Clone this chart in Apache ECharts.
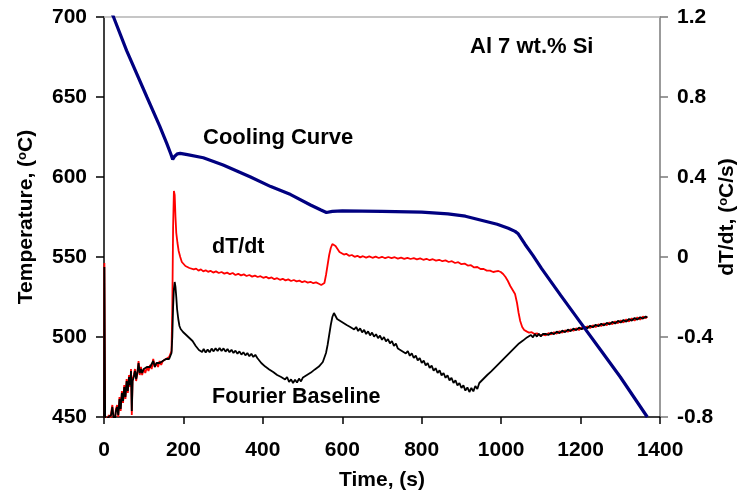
<!DOCTYPE html>
<html>
<head>
<meta charset="utf-8">
<script src="https://cdn.jsdelivr.net/npm/echarts@6/dist/echarts.min.js"></script>
<style>
  html, body { margin: 0; padding: 0; background: #fff; }
  #container { width: 742px; height: 495px; }
</style>
</head>
<body>
<div id="container"></div>
<script>
// cooling curve, time (s) / temperature (C), left axis
var coolingCurve = [
    [0,716],[10,708],[24,700],[57,679],[108,650],[140,632],[158,621],[168,614.5],
    [173,611],[178,613],[185,614.5],[192,614.8],[210,614],[250,612],[300,607.5],
    [369,600],[420,594],[470,589],[520,582.5],[545,579.5],[560,577.8],[575,578.5],
    [600,578.8],[700,578.5],[800,578],[866,577],[910,575.5],[950,573],[990,570.5],
    [1018,568],[1035,566],[1043,564.5],[1060,558],[1080,551],[1102,542.7],
    [1150,526],[1200,509],[1250,492],[1300,475],[1368,450]
];

// dT/dt (C/s), right axis
var dTdtCurve = [
    [0,-0.80],[1,-0.03],[3,-0.86],[6,-0.80],[9,-0.83],[12,-0.79],[15,-0.82],[18,-0.78],
    [21,-0.74],[24,-0.81],[27,-0.83],[30,-0.76],[33,-0.74],[36,-0.80],[39,-0.70],[42,-0.77],
    [45,-0.67],[48,-0.73],[51,-0.64],[54,-0.71],[57,-0.61],[60,-0.68],[63,-0.59],[66,-0.65],
    [68,-0.56],[70,-0.79],[72,-0.61],[75,-0.59],[78,-0.56],[81,-0.62],[84,-0.58],[87,-0.52],
    [90,-0.59],[93,-0.55],[96,-0.59],[100,-0.56],[104,-0.58],[108,-0.55],[112,-0.57],[116,-0.54],
    [120,-0.56],[124,-0.51],[128,-0.55],[132,-0.53],[136,-0.55],[140,-0.52],[144,-0.54],[148,-0.52],
    [152,-0.53],[156,-0.51],[160,-0.52],[164,-0.50],[168,-0.50],[170,-0.47],
    [172,-0.25],[174,0.15],[176,0.33],[178,0.31],[180,0.20],[182,0.12],[185,0.07],[188,0.03],
    [192,0.0],[196,-0.025],[200,-0.035],[205,-0.045],[210,-0.04],[215,-0.055],[220,-0.05],
    [226,-0.062],[232,-0.058],[238,-0.068],[244,-0.062],[250,-0.072],[256,-0.066],[262,-0.074],
    [268,-0.069],[275,-0.078],[282,-0.072],[289,-0.08],[296,-0.075],[303,-0.083],[310,-0.078],
    [317,-0.086],[324,-0.08],[331,-0.09],[338,-0.084],[345,-0.092],[352,-0.087],[359,-0.095],
    [366,-0.09],[373,-0.098],[380,-0.093],[387,-0.1],[394,-0.096],[401,-0.104],[408,-0.099],
    [415,-0.107],[422,-0.102],[429,-0.111],[436,-0.106],[443,-0.114],[450,-0.109],[457,-0.117],
    [464,-0.112],[471,-0.12],[478,-0.115],[485,-0.122],[492,-0.118],[499,-0.126],[506,-0.121],
    [513,-0.128],[520,-0.124],[527,-0.131],[534,-0.127],[541,-0.134],[547,-0.14],[551,-0.15],
    [555,-0.13],[559,-0.09],[563,-0.04],[567,0.01],[571,0.045],[575,0.065],[579,0.07],
    [583,0.055],[588,0.04],[593,0.025],[598,0.02],[604,0.012],[610,0.016],[617,0.006],
    [624,0.01],[631,0.001],[638,0.006],[645,-0.002],[652,0.004],[660,-0.003],[668,0.003],
    [676,-0.004],[684,0.002],[692,-0.005],[700,0.001],[708,-0.006],[716,0.0],[724,-0.006],
    [732,-0.001],[740,-0.008],[748,-0.003],[756,-0.009],[764,-0.004],[772,-0.01],[780,-0.006],
    [788,-0.012],[796,-0.007],[804,-0.014],[812,-0.009],[820,-0.016],[828,-0.011],[836,-0.018],
    [844,-0.014],[852,-0.021],[860,-0.017],[868,-0.025],[876,-0.021],[884,-0.03],[892,-0.026],
    [900,-0.036],[908,-0.033],[916,-0.043],[924,-0.041],[932,-0.052],[940,-0.05],[948,-0.06],
    [956,-0.06],[964,-0.068],[972,-0.068],[980,-0.075],[987,-0.072],[993,-0.07],[999,-0.075],
    [1005,-0.085],[1011,-0.1],[1017,-0.12],[1023,-0.145],[1029,-0.165],[1035,-0.185],
    [1040,-0.23],[1044,-0.28],[1048,-0.32],[1053,-0.35],[1058,-0.365],[1064,-0.372],
    [1070,-0.378],[1077,-0.376],[1084,-0.385],[1091,-0.382],[1098,-0.392],[1105,-0.388],
    [1112,-0.392],[1119,-0.381],[1126,-0.387],[1133,-0.376],[1140,-0.383],[1147,-0.371],
    [1154,-0.378],[1161,-0.367],[1168,-0.374],[1175,-0.362],[1182,-0.369],[1189,-0.357],
    [1196,-0.365],[1203,-0.352],[1210,-0.36],[1217,-0.347],[1224,-0.355],[1231,-0.342],
    [1238,-0.35],[1245,-0.337],[1252,-0.345],[1259,-0.332],[1266,-0.341],[1273,-0.327],
    [1280,-0.336],[1287,-0.322],[1294,-0.331],[1301,-0.317],[1308,-0.327],[1315,-0.312],
    [1322,-0.322],[1329,-0.307],[1336,-0.318],[1343,-0.302],[1350,-0.313],[1357,-0.298],
    [1364,-0.306],[1368,-0.298]
];

// Fourier baseline (C/s), right axis
var baselineCurve = [
    [0,-0.80],[1,-0.05],[3,-0.85],[6,-0.81],[9,-0.82],[12,-0.80],[15,-0.81],[18,-0.79],
    [21,-0.75],[24,-0.80],[27,-0.82],[30,-0.77],[33,-0.75],[36,-0.79],[39,-0.71],[42,-0.76],
    [45,-0.68],[48,-0.72],[51,-0.65],[54,-0.70],[57,-0.62],[60,-0.67],[63,-0.60],[66,-0.64],
    [68,-0.57],[70,-0.77],[72,-0.62],[75,-0.60],[78,-0.57],[81,-0.61],[84,-0.58],[87,-0.53],
    [90,-0.58],[93,-0.56],[96,-0.58],[100,-0.56],[104,-0.57],[108,-0.55],[112,-0.56],[116,-0.55],
    [120,-0.55],[124,-0.52],[128,-0.55],[132,-0.53],[136,-0.54],[140,-0.53],[144,-0.53],[148,-0.52],
    [152,-0.53],[156,-0.51],[160,-0.52],[164,-0.51],[168,-0.50],[170,-0.48],
    [172,-0.40],[174,-0.25],[176,-0.16],[178,-0.125],[180,-0.15],[182,-0.20],[184,-0.26],
    [187,-0.31],[190,-0.345],[193,-0.36],[196,-0.355],[199,-0.375],[203,-0.37],[207,-0.39],
    [211,-0.38],[215,-0.405],[219,-0.395],[223,-0.42],[227,-0.43],[231,-0.445],[235,-0.44],
    [239,-0.465],[243,-0.455],[247,-0.475],[251,-0.46],[256,-0.478],[261,-0.463],[266,-0.476],
    [271,-0.458],[276,-0.472],[281,-0.456],[286,-0.47],[291,-0.455],[296,-0.47],[301,-0.457],
    [306,-0.473],[311,-0.46],[316,-0.476],[321,-0.464],[326,-0.48],[331,-0.468],[336,-0.484],
    [341,-0.472],[346,-0.488],[351,-0.476],[356,-0.492],[361,-0.48],[366,-0.496],[371,-0.484],
    [376,-0.5],[381,-0.489],[386,-0.505],[391,-0.495],[396,-0.53],[401,-0.52],[406,-0.548],
    [411,-0.54],[416,-0.562],[421,-0.553],[426,-0.575],[431,-0.566],[436,-0.59],[441,-0.58],
    [446,-0.6],[451,-0.59],[456,-0.612],[461,-0.6],[466,-0.625],[471,-0.612],[476,-0.63],
    [481,-0.614],[486,-0.628],[491,-0.608],[496,-0.622],[501,-0.602],[506,-0.612],[511,-0.59],
    [516,-0.6],[521,-0.578],[526,-0.585],[531,-0.562],[536,-0.57],[541,-0.548],[546,-0.553],
    [551,-0.525],[555,-0.52],[559,-0.48],[563,-0.44],[567,-0.39],[571,-0.34],[575,-0.3],
    [579,-0.28],[583,-0.295],[587,-0.31],[591,-0.3],[595,-0.32],[599,-0.31],[603,-0.33],
    [607,-0.322],[611,-0.34],[615,-0.33],[620,-0.35],[625,-0.34],[630,-0.362],[635,-0.35],
    [640,-0.37],[645,-0.357],[650,-0.377],[655,-0.364],[660,-0.385],[665,-0.372],[670,-0.392],
    [675,-0.378],[680,-0.398],[685,-0.386],[690,-0.406],[695,-0.393],[700,-0.414],[705,-0.4],
    [710,-0.422],[715,-0.41],[720,-0.432],[725,-0.42],[730,-0.444],[735,-0.433],[740,-0.458],
    [745,-0.448],[750,-0.47],[755,-0.46],[760,-0.482],[765,-0.47],[770,-0.494],[775,-0.482],
    [780,-0.505],[785,-0.493],[790,-0.517],[795,-0.505],[800,-0.53],[805,-0.518],[810,-0.542],
    [815,-0.53],[820,-0.555],[825,-0.543],[830,-0.568],[835,-0.556],[840,-0.58],[845,-0.567],
    [850,-0.592],[855,-0.58],[860,-0.604],[865,-0.592],[870,-0.617],[875,-0.604],[880,-0.63],
    [885,-0.617],[890,-0.642],[895,-0.63],[900,-0.655],[905,-0.642],[910,-0.668],[915,-0.652],
    [920,-0.675],[925,-0.655],[930,-0.672],[935,-0.645],[940,-0.66],[945,-0.63],[950,-0.64],
    [955,-0.61],[960,-0.62],[965,-0.59],[970,-0.6],[975,-0.572],[980,-0.58],[985,-0.552],
    [990,-0.56],[995,-0.532],[1000,-0.54],[1005,-0.512],[1010,-0.52],[1015,-0.492],[1020,-0.5],
    [1025,-0.472],[1030,-0.478],[1035,-0.452],[1040,-0.458],[1045,-0.432],[1050,-0.44],
    [1055,-0.418],[1060,-0.425],[1065,-0.402],[1070,-0.41],[1075,-0.39],[1080,-0.402],
    [1085,-0.385],[1090,-0.398],[1095,-0.384],[1100,-0.397],[1105,-0.385],
    [1112,-0.384],[1119,-0.39],[1126,-0.378],[1133,-0.386],[1140,-0.373],[1147,-0.381],
    [1154,-0.368],[1161,-0.376],[1168,-0.363],[1175,-0.371],[1182,-0.358],[1189,-0.366],
    [1196,-0.353],[1203,-0.361],[1210,-0.349],[1217,-0.356],[1224,-0.344],[1231,-0.351],
    [1238,-0.339],[1245,-0.346],[1252,-0.334],[1259,-0.342],[1266,-0.329],[1273,-0.337],
    [1280,-0.324],[1287,-0.333],[1294,-0.319],[1301,-0.328],[1308,-0.315],[1315,-0.323],
    [1322,-0.31],[1329,-0.318],[1336,-0.305],[1343,-0.313],[1350,-0.301],[1357,-0.308],
    [1364,-0.297],[1368,-0.302]
];

var font = '"Liberation Sans", Arial, sans-serif';
var tickFont = { fontSize: 21, fontWeight: 'bold', fontFamily: font, color: '#000' };
var supStyle = { fontSize: 13, fontWeight: 'bold', fontFamily: font, color: '#000', verticalAlign: 'top', lineHeight: 21 };
var nameStyle = {
    fontSize: 21, fontWeight: 'bold', fontFamily: font, color: '#000', lineHeight: 21,
    rich: {
        sup: supStyle,
        b: { fontSize: 21, fontWeight: 'bold', fontFamily: font, color: '#000', lineHeight: 21 }
    }
};

var dom = document.getElementById('container');
var myChart = echarts.init(dom, null, { renderer: 'canvas' });

var option = {
    animation: false,
    backgroundColor: '#fff',
    grid: { left: 104, right: 82, top: 17, bottom: 78, outerBoundsMode: 'none', containLabel: false },
    xAxis: [
        {
            type: 'value', min: 0, max: 1400, interval: 200, position: 'bottom',
            name: 'Time, (s)', nameLocation: 'middle', nameGap: 53, nameMoveOverlap: false,
            nameTextStyle: { fontSize: 21, fontWeight: 'bold', fontFamily: font, color: '#000' },
            axisLine: { onZero: false, lineStyle: { color: '#000', width: 1.5 } },
            axisTick: { inside: false, length: 7, lineStyle: { color: '#000', width: 1.5 } },
            axisLabel: Object.assign({
                margin: 23,
                formatter: function (v) { return String(v); }
            }, tickFont),
            splitLine: { show: false }
        },
        {
            type: 'value', min: 0, max: 1400, position: 'top',
            axisLine: { onZero: false, lineStyle: { color: '#b4b4b4', width: 1.5 } },
            axisTick: { show: false },
            axisLabel: { show: false },
            splitLine: { show: false }
        }
    ],
    yAxis: [
        {
            type: 'value', min: 450, max: 700, interval: 50, position: 'left',
            name: '{b|Temperature, (}{sup|o}{b|C)}', nameLocation: 'middle', nameGap: 67,
            nameMoveOverlap: false,
            nameTextStyle: nameStyle,
            axisLine: { show: true, onZero: false, lineStyle: { color: '#000', width: 1.5 } },
            axisTick: { show: true, inside: false, length: 8, lineStyle: { color: '#000', width: 1.5 } },
            axisLabel: Object.assign({ margin: 17 }, tickFont),
            splitLine: { show: false }
        },
        {
            type: 'value', min: -0.8, max: 1.2, interval: 0.4, position: 'right',
            name: '{b|dT/dt, (}{sup|o}{b|C/s)}', nameLocation: 'middle', nameGap: 57,
            nameMoveOverlap: false,
            nameTextStyle: nameStyle,
            axisLine: { show: true, onZero: false, lineStyle: { color: '#7a7a7a', width: 1.5 } },
            axisTick: { show: true, inside: false, length: 8, lineStyle: { color: '#7a7a7a', width: 1.5 } },
            axisLabel: Object.assign({
                margin: 17,
                formatter: function (v) { return String(Number(v.toFixed(1))); }
            }, tickFont),
            splitLine: { show: false }
        }
    ],
    series: [
        {
            name: 'dT/dt', type: 'line', yAxisIndex: 1, showSymbol: false, symbol: 'none',
            data: dTdtCurve,
            lineStyle: { color: '#ff0000', width: 1.8 }
        },
        {
            name: 'Fourier Baseline', type: 'line', yAxisIndex: 1, showSymbol: false, symbol: 'none',
            data: baselineCurve,
            lineStyle: { color: '#000', width: 1.8 }
        },
        {
            name: 'Cooling Curve', type: 'line', yAxisIndex: 0, showSymbol: false, symbol: 'none',
            data: coolingCurve,
            lineStyle: { color: '#000080', width: 3.2 }
        }
    ],
    graphic: [
        { type: 'text', x: 203, y: 138, silent: true,
          style: { text: 'Cooling Curve', font: 'bold 22px ' + font, fill: '#000', align: 'left', verticalAlign: 'middle' } },
        { type: 'text', x: 212, y: 247, silent: true,
          style: { text: 'dT/dt', font: 'bold 21.5px ' + font, fill: '#000', align: 'left', verticalAlign: 'middle' } },
        { type: 'text', x: 212, y: 397, silent: true,
          style: { text: 'Fourier Baseline', font: 'bold 21.5px ' + font, fill: '#000', align: 'left', verticalAlign: 'middle' } },
        { type: 'text', x: 470, y: 47, silent: true,
          style: { text: 'Al 7 wt.% Si', font: 'bold 22px ' + font, fill: '#000', align: 'left', verticalAlign: 'middle' } }
    ]
};
myChart.setOption(option, true);
</script>
</body>
</html>
